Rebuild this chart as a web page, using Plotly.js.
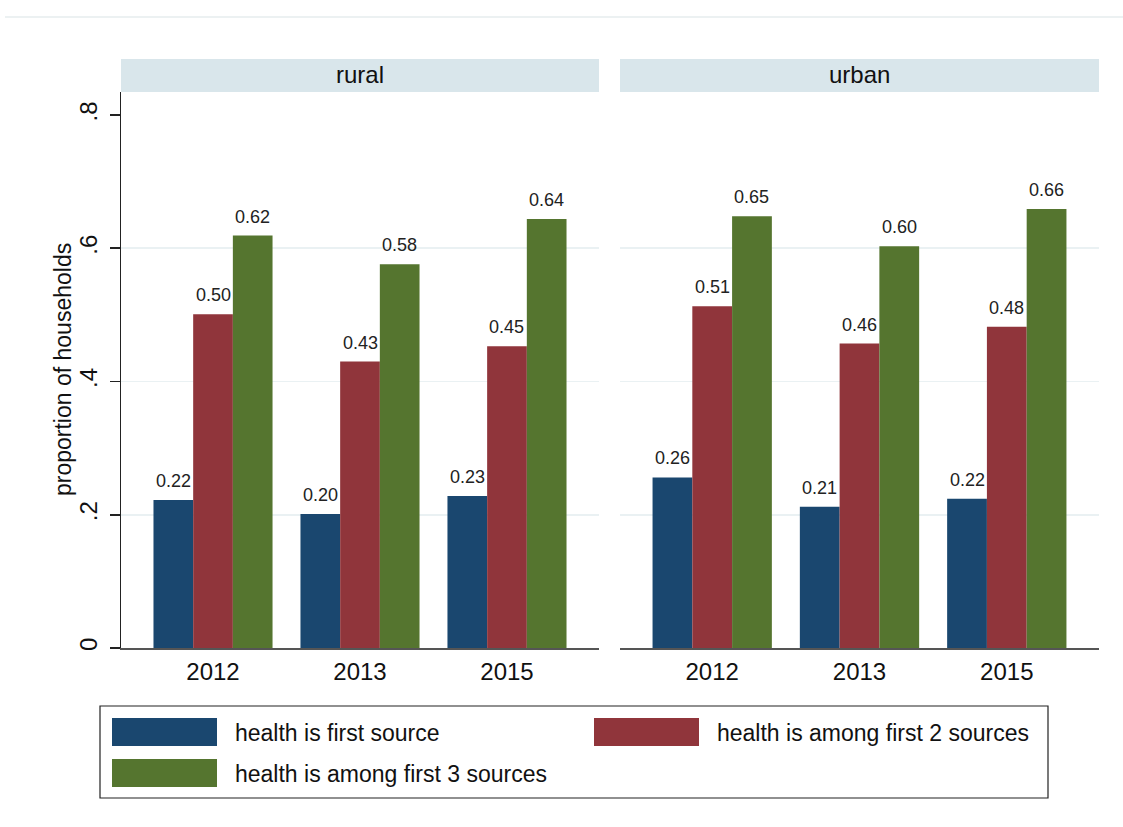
<!DOCTYPE html>
<html>
<head>
<meta charset="utf-8">
<script src="https://cdn.plot.ly/plotly-3.0.1.min.js"></script>
<style>html,body{margin:0;padding:0;background:#fff;}#chart{width:1123px;height:827px;}</style>
</head>
<body>
<div id="chart"></div>
<script>
const years = ['2012', '2013', '2015'];
const panels = ['rural', 'urban'];
const seriesNames = ['health is first source', 'health is among first 2 sources', 'health is among first 3 sources'];
const seriesColors = ['#1a476f', '#90353b', '#55752f'];
const ruralFirst = [0.222, 0.201, 0.228];
const ruralTwo = [0.501, 0.430, 0.453];
const ruralThree = [0.619, 0.576, 0.644];
const urbanFirst = [0.256, 0.212, 0.224];
const urbanTwo = [0.513, 0.457, 0.482];
const urbanThree = [0.648, 0.603, 0.659];
const yTickVals = [0, 0.2, 0.4, 0.6, 0.8];
const yTickText = ['0', '.2', '.4', '.6', '.8'];
const gridVals = [0.2, 0.4, 0.6];

const W = 1123, H = 827;
const px = x => x / W;
const py = y => 1 - y / H;
const FONT = 'Liberation Sans, Arial, sans-serif';
const BARGAP = 0.19;
const barW = (1 - BARGAP) / 3;

const panelData = [[ruralFirst, ruralTwo, ruralThree], [urbanFirst, urbanTwo, urbanThree]];
const traces = [];
const labelAnns = [];
panelData.forEach((sets, p) => {
  sets.forEach((vals, s) => {
    traces.push({
      type: 'bar', x: years, y: vals, name: seriesNames[s],
      marker: {color: seriesColors[s], line: {width: 0}},
      xaxis: p === 0 ? 'x' : 'x2', yaxis: p === 0 ? 'y' : 'y2',
      showlegend: false, hoverinfo: 'skip'
    });
    vals.forEach((v, k) => {
      labelAnns.push({
        xref: p === 0 ? 'x' : 'x2', yref: p === 0 ? 'y' : 'y2',
        x: k + (s - 1) * barW, y: v, text: v.toFixed(2), showarrow: false,
        xanchor: 'center', yanchor: 'bottom', yshift: 7,
        font: {family: FONT, size: 18, color: '#222'}
      });
    });
  });
});
// invisible trace to carry the rural grid overlay axis
traces.push({type: 'scatter', x: [years[0]], y: [0], xaxis: 'x', yaxis: 'y3', mode: 'markers',
  marker: {opacity: 0}, showlegend: false, hoverinfo: 'skip'});

const yDom = [py(648), py(92)];
const yRange = [0, 0.8345];
const xCommon = {
  type: 'category', range: [-0.626, 2.626], showline: true, linecolor: '#555', linewidth: 2,
  ticks: '', showgrid: false, zeroline: false, ticklabelstandoff: 1,
  tickfont: {family: FONT, size: 24, color: '#111'}, fixedrange: true
};
const layout = {
  width: W, height: H, margin: {l: 0, r: 0, t: 0, b: 0},
  paper_bgcolor: '#fff', plot_bgcolor: '#fff',
  barmode: 'group', bargap: BARGAP, bargroupgap: 0,
  xaxis: Object.assign({}, xCommon, {domain: [px(121), px(599)], anchor: 'y'}),
  xaxis2: Object.assign({}, xCommon, {domain: [px(620), px(1099)], anchor: 'y2'}),
  yaxis: {
    domain: yDom, range: yRange, anchor: 'x', showline: true, linecolor: '#222', linewidth: 1.5,
    ticks: 'outside', ticklen: 10, tickcolor: '#222', tickwidth: 1.5,
    tickvals: yTickVals, ticktext: yTickText, tickangle: -90, ticklabelstandoff: 3,
    tickfont: {family: FONT, size: 24, color: '#111'},
    showgrid: false, zeroline: false, fixedrange: true
  },
  yaxis3: {
    overlaying: 'y', anchor: 'x', range: yRange, tickvals: gridVals, showticklabels: false, ticks: '',
    showline: false, showgrid: true, gridcolor: '#eaf1f3', gridwidth: 1.5, zeroline: false, fixedrange: true,
    layer: 'below traces'
  },
  yaxis2: {
    domain: yDom, range: yRange, anchor: 'x2', showline: false, showticklabels: false, ticks: '',
    tickvals: gridVals, showgrid: true, gridcolor: '#eaf1f3', gridwidth: 1.5, zeroline: false, fixedrange: true
  },
  shapes: [], annotations: labelAnns
};

// top thin rule
layout.shapes.push({type: 'line', xref: 'paper', yref: 'paper', x0: px(5), x1: 1, y0: py(17), y1: py(17), line: {color: '#e6ecee', width: 1.5}});

// panel strips
const stripX = [[121, 599], [620, 1099]];
panels.forEach((name, i) => {
  layout.shapes.push({type: 'rect', xref: 'paper', yref: 'paper', x0: px(stripX[i][0]), x1: px(stripX[i][1]),
    y0: py(92), y1: py(59), fillcolor: '#d9e6eb', line: {width: 0}, layer: 'below'});
  layout.annotations.push({xref: 'paper', yref: 'paper', x: px((stripX[i][0] + stripX[i][1]) / 2), y: py(74),
    text: name, showarrow: false, xanchor: 'center', yanchor: 'middle', font: {family: FONT, size: 24, color: '#111'}});
});

// y title
layout.annotations.push({xref: 'paper', yref: 'paper', x: px(63), y: py(370), text: 'proportion of households',
  textangle: -90, showarrow: false, xanchor: 'center', yanchor: 'middle', font: {family: FONT, size: 23, color: '#111'}});

// legend
layout.shapes.push({type: 'rect', xref: 'paper', yref: 'paper', x0: px(100), x1: px(1048), y0: py(798), y1: py(706),
  fillcolor: 'rgba(0,0,0,0)', line: {color: '#222', width: 1.2}});
const legPos = [[112, 718], [594, 718], [112, 759]];
seriesNames.forEach((n, i) => {
  const [lx, ly] = legPos[i];
  layout.shapes.push({type: 'rect', xref: 'paper', yref: 'paper', x0: px(lx), x1: px(lx + 105), y0: py(ly + 28), y1: py(ly),
    fillcolor: seriesColors[i], line: {width: 0}});
  layout.annotations.push({xref: 'paper', yref: 'paper', x: px(lx + 121), y: py(ly + 15), text: n, showarrow: false,
    xanchor: 'left', yanchor: 'middle', font: {family: FONT, size: 23, color: '#111'}});
});

Plotly.newPlot('chart', traces, layout, {displayModeBar: false, staticPlot: true});
</script>
</body>
</html>
